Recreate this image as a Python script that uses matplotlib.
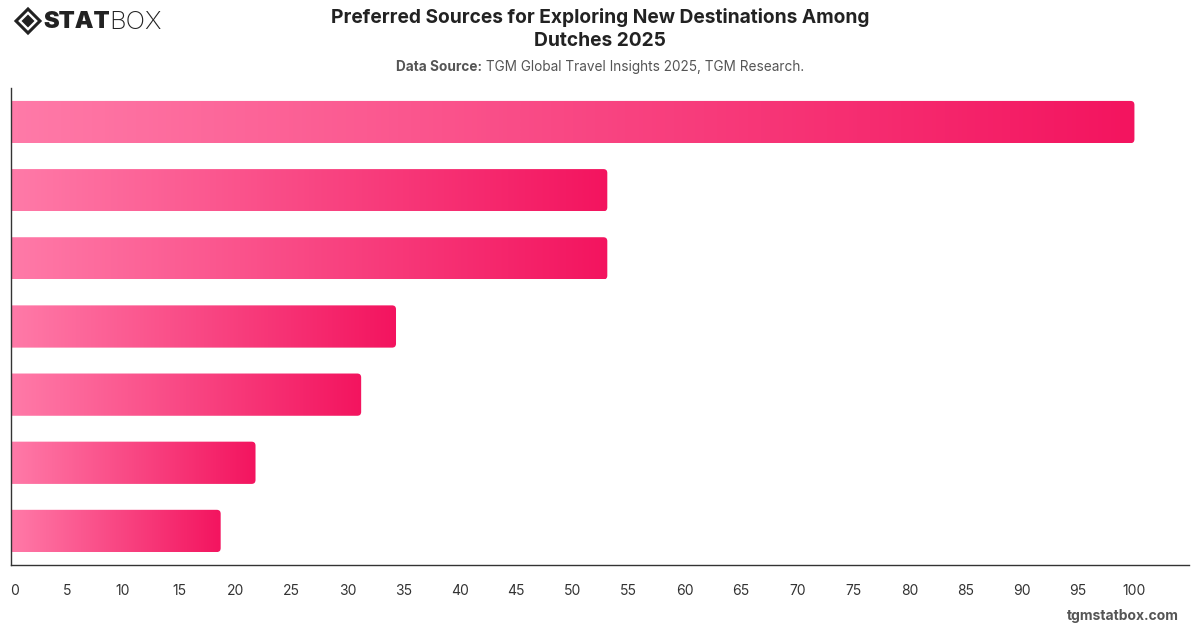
"""Preferred sources for exploring new destinations among Dutches, 2025."""

import matplotlib

matplotlib.use("Agg")
import matplotlib.pyplot as plt
import numpy as np
from matplotlib.colors import LinearSegmentedColormap
from matplotlib.patches import FancyBboxPatch, Polygon

plt.rcParams["font.family"] = ["Inter", "DejaVu Sans"]

# data (category names are not shown in the source image)
categories = ["Source 1", "Source 2", "Source 3", "Source 4", "Source 5", "Source 6", "Source 7"]
values = [100.0, 53.1, 53.1, 34.3, 31.2, 21.8, 18.7]
xticks = list(range(0, 101, 5))

title = "Preferred Sources for Exploring New Destinations Among\nDutches 2025"
source_label = "Data Source:"
source_text = " TGM Global Travel Insights 2025, TGM Research."

bar_cmap = LinearSegmentedColormap.from_list("pink", ["#FF7AA8", "#F3145F"])

fig = plt.figure(figsize=(12, 6.28), dpi=100)
ax = fig.add_axes([0.00875, 0.1003, 0.9825, 0.7596])

n = len(categories)
ax.set_xlim(0, 104.9)
ax.set_ylim(n - 0.5, -0.5)

bar_h = 0.62
gradient = np.linspace(0, 1, 256).reshape(1, -1)
# rounding aspect: x units per px / y units per px
aspect = (104.9 / 1178.5) / (n / 477.0)
for i, v in enumerate(values):
    y0 = i - bar_h / 2
    im = ax.imshow(
        gradient,
        cmap=bar_cmap,
        extent=(0, v, i + bar_h / 2, y0),
        aspect="auto",
        interpolation="bicubic",
        zorder=2,
    )
    clip = FancyBboxPatch(
        (-1, y0),
        v + 1,
        bar_h,
        boxstyle="round,pad=0,rounding_size=0.35",
        mutation_aspect=1 / aspect,
        transform=ax.transData,
        facecolor="none",
        edgecolor="none",
    )
    ax.add_patch(clip)
    im.set_clip_path(clip)

ax.set_yticks([])
ax.set_xticks(xticks)
ax.set_xticklabels([str(t) for t in xticks])
ax.tick_params(axis="x", length=0, pad=14, labelsize=10, labelcolor="#333333")
for lbl in ax.get_xticklabels()[:1]:
    lbl.set_horizontalalignment("left")

for side in ["top", "right"]:
    ax.spines[side].set_visible(False)
for side in ["left", "bottom"]:
    ax.spines[side].set_color("#333333")
    ax.spines[side].set_linewidth(1.0)

# title and subtitle
fig.text(0.5, 0.988, title, ha="center", va="top", fontsize=13.8,
         fontweight="bold", color="#222222", linespacing=1.4)

renderer = fig.canvas.get_renderer()
t1 = fig.text(0, 0.893, source_label, ha="left", va="center", fontsize=9.8,
              fontweight="bold", color="#555555")
t2 = fig.text(0, 0.893, source_text, ha="left", va="center", fontsize=9.8,
              color="#555555")
w1 = t1.get_window_extent(renderer).width / fig.bbox.width
w2 = t2.get_window_extent(renderer).width / fig.bbox.width
start = 0.5 - (w1 + w2) / 2
t1.set_x(start)
t2.set_x(start + w1)

# logo
cx, cy = 28 / 1200, 1 - 21 / 628
sx, sy = 12 / 1200, 12 / 628
outer = Polygon([(cx - sx, cy), (cx, cy + sy), (cx + sx, cy), (cx, cy - sy)],
                closed=True, transform=fig.transFigure, facecolor="none",
                edgecolor="#222222", linewidth=2.2)
ix, iy = 6.5 / 1200, 6.5 / 628
inner = Polygon([(cx - ix, cy), (cx, cy + iy), (cx + ix, cy), (cx, cy - iy)],
                closed=True, transform=fig.transFigure, facecolor="#222222",
                edgecolor="none")
fig.patches.extend([outer, inner])
logo1 = fig.text(43 / 1200, cy - 0.002, "STAT", ha="left", va="center", fontsize=17,
                 fontweight="black", color="#222222")
lw = logo1.get_window_extent(renderer).width / fig.bbox.width
fig.text(43 / 1200 + lw, cy - 0.002, "BOX", ha="left", va="center", fontsize=18.5,
         fontweight="light", color="#222222")

# watermark
fig.text(1179 / 1200, 1 - 616 / 628, "tgmstatbox.com", ha="right", va="center",
         fontsize=10, fontweight="bold", color="#555555")

fig.savefig("out.png", dpi=100, facecolor="white")
plt.close(fig)
